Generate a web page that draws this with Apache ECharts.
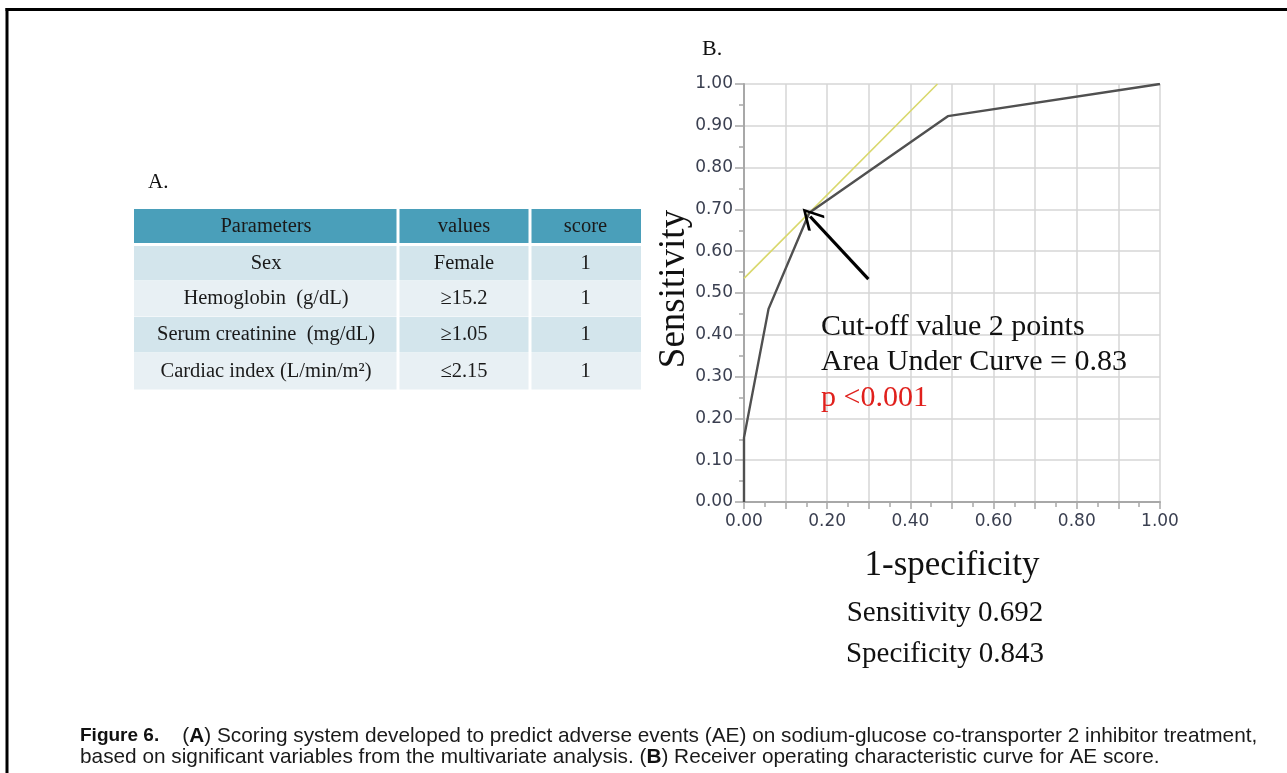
<!DOCTYPE html>
<html>
<head>
<meta charset="utf-8">
<script src="https://cdn.jsdelivr.net/npm/echarts@6/dist/echarts.min.js"></script>
<style>
html,body{margin:0;padding:0;background:#fff;}
#chart{width:1287px;height:773px;}
</style>
</head>
<body>
<div id="chart"></div>
<script>
// ---- Data ----
const rocFPR = [0, 0, 0.059, 0.157, 0.49, 1.0];
const rocTPR = [0, 0.154, 0.462, 0.692, 0.923, 1.0];
const tangentX = [0, 0.465];
const tangentY = [0.535, 1.0];
const arrowFrom = [0.299, 0.533];
const arrowTo = [0.159, 0.683];

const tableHeader = ['Parameters', 'values', 'score'];
const tableParams = ['Sex', 'Hemoglobin  (g/dL)', 'Serum creatinine  (mg/dL)', 'Cardiac index (L/min/m²)'];
const tableValues = ['Female', '≥15.2', '≥1.05', '≤2.15'];
const tableScores = ['1', '1', '1', '1'];

const annotLines = ['Cut-off value 2 points', 'Area Under Curve = 0.83', 'p <0.001'];
const summaryLines = ['Sensitivity 0.692', 'Specificity 0.843'];

// ---- Layout ----
const serif = '"Liberation Serif", "Times New Roman", serif';
const G = {left: 744, top: 84, width: 416, height: 418};

function tableGraphics() {
  const colX = [134, 398, 530, 641];
  const headTop = 209, headH = 34;
  const rowTops = [246, 281, 317, 353, 390];
  const els = [];
  for (let c = 0; c < 3; c++) {
    els.push({type: 'rect', shape: {x: colX[c] + (c ? 1.5 : 0), y: headTop, width: colX[c+1] - colX[c] - (c ? 1.5 : 0) - (c < 2 ? 1.5 : 0), height: headH},
      style: {fill: '#4a9fba'}});
    els.push({type: 'text', z: 10, x: (colX[c] + colX[c+1]) / 2, y: headTop + headH / 2 + 1,
      style: {text: tableHeader[c], font: '20.5px ' + serif, fill: '#1a1a1a', textAlign: 'center', textVerticalAlign: 'middle'}});
  }
  const cols = [tableParams, tableValues, tableScores];
  for (let r = 0; r < tableParams.length; r++) {
    const fill = r % 2 === 0 ? '#d3e5ec' : '#e8f0f4';
    const y0 = rowTops[r], h = rowTops[r+1] - rowTops[r];
    for (let c = 0; c < 3; c++) {
      els.push({type: 'rect', shape: {x: colX[c] + (c ? 1.5 : 0), y: y0, width: colX[c+1] - colX[c] - (c ? 1.5 : 0) - (c < 2 ? 1.5 : 0), height: h - 0.5},
        style: {fill: fill}});
      els.push({type: 'text', z: 10, x: (colX[c] + colX[c+1]) / 2, y: y0 + h / 2,
        style: {text: cols[c][r], font: '20.5px ' + serif, fill: '#1a1a1a', textAlign: 'center', textVerticalAlign: 'middle'}});
    }
  }
  return els;
}

const chart = echarts.init(document.getElementById('chart'), null, {renderer: 'canvas'});

const capFont = '20.8px "Liberation Sans", Arial, sans-serif';

const option = {
  backgroundColor: '#ffffff',
  animation: false,
  grid: {left: G.left, top: G.top, width: G.width, height: G.height, containLabel: false},
  xAxis: {
    type: 'value', min: 0, max: 1, interval: 0.1,
    axisLine: {show: true, onZero: false, lineStyle: {color: '#a8a8a8', width: 2}},
    axisTick: {show: true, length: 7, lineStyle: {color: '#a8a8a8', width: 1.5}},
    minorTick: {show: true, splitNumber: 2, length: 5, lineStyle: {color: '#a8a8a8', width: 1.5}},
    splitLine: {show: true, lineStyle: {color: '#d6d6d6', width: 1.5}},
    axisLabel: {
      margin: 11, color: '#3a3f50', fontSize: 17, fontFamily: '"DejaVu Sans", Verdana, sans-serif',
      formatter: v => (Math.round(v * 10) % 2 === 0 ? v.toFixed(2) : '')
    }
  },
  yAxis: {
    type: 'value', min: 0, max: 1, interval: 0.1,
    axisLine: {show: true, onZero: false, lineStyle: {color: '#a8a8a8', width: 2}},
    axisTick: {show: true, length: 9, lineStyle: {color: '#a8a8a8', width: 1.5}},
    minorTick: {show: true, splitNumber: 2, length: 5, lineStyle: {color: '#a8a8a8', width: 1.5}},
    splitLine: {show: true, lineStyle: {color: '#d6d6d6', width: 1.5}},
    axisLabel: {
      margin: 11, color: '#3a3f50', fontSize: 17, fontFamily: '"DejaVu Sans", Verdana, sans-serif',
      formatter: v => v.toFixed(2)
    }
  },
  series: [
    {
      type: 'line', name: 'tangent', showSymbol: false, symbol: 'none',
      data: tangentX.map((x, i) => [x, tangentY[i]]),
      lineStyle: {color: '#d9d86c', width: 1.6}, z: 2
    },
    {
      type: 'line', name: 'ROC', showSymbol: false, symbol: 'none',
      data: rocFPR.map((x, i) => [x, rocTPR[i]]),
      lineStyle: {color: '#505050', width: 2.4}, z: 3,
      markLine: {
        silent: true, animation: false,
        symbol: ['none', 'path://M0,0 L9,13 L7.5,14.5 L0,3.5 L-7.5,14.5 L-9,13 Z'],
        symbolSize: [22, 22],
        label: {show: false},
        lineStyle: {color: '#000', width: 3.2, type: 'solid'},
        data: [[{coord: arrowFrom}, {coord: arrowTo}]]
      }
    }
  ],
  graphic: [
    // frame
    {type: 'line', shape: {x1: 5.5, y1: 9.5, x2: 1287, y2: 9.5}, style: {stroke: '#000', lineWidth: 3}},
    {type: 'line', shape: {x1: 7, y1: 8, x2: 7, y2: 773}, style: {stroke: '#000', lineWidth: 3}},
    // panel labels
    {type: 'text', z: 10, x: 148, y: 182, style: {text: 'A.', font: '21px ' + serif, fill: '#111', textAlign: 'left', textVerticalAlign: 'middle'}},
    {type: 'text', z: 10, x: 702, y: 49, style: {text: 'B.', font: '22px ' + serif, fill: '#111', textAlign: 'left', textVerticalAlign: 'middle'}},
    // axis titles
    {type: 'text', z: 10, x: 674, y: 289, rotation: Math.PI / 2,
      style: {text: 'Sensitivity', font: '37px ' + serif, fill: '#111', textAlign: 'center', textVerticalAlign: 'middle'}},
    {type: 'text', z: 10, x: 952, y: 566,
      style: {text: '1-specificity', font: '35px ' + serif, fill: '#111', textAlign: 'center', textVerticalAlign: 'middle'}},
    // annotation
    {type: 'text', z: 100, x: 821, y: 327, style: {text: annotLines[0], font: '30px ' + serif, fill: '#111', textAlign: 'left', textVerticalAlign: 'middle'}},
    {type: 'text', z: 100, x: 821, y: 362, style: {text: annotLines[1], font: '30px ' + serif, fill: '#111', textAlign: 'left', textVerticalAlign: 'middle'}},
    {type: 'text', z: 100, x: 821, y: 398, style: {text: annotLines[2], font: '30px ' + serif, fill: '#e0201c', textAlign: 'left', textVerticalAlign: 'middle'}},
    // summary
    {type: 'text', z: 10, x: 945, y: 613, style: {text: summaryLines[0], font: '29px ' + serif, fill: '#111', textAlign: 'center', textVerticalAlign: 'middle'}},
    {type: 'text', z: 10, x: 945, y: 654, style: {text: summaryLines[1], font: '29px ' + serif, fill: '#111', textAlign: 'center', textVerticalAlign: 'middle'}},
    // caption
    {type: 'text', z: 10, x: 80, y: 736, style: {
      text: '{fig|Figure 6.}    ({b|A}) Scoring system developed to predict adverse events (AE) on sodium-glucose co-transporter 2 inhibitor treatment,',
      font: capFont, fill: '#1a1a1a', textAlign: 'left', textVerticalAlign: 'middle',
      rich: {
        fig: {fontFamily: '"Liberation Sans Narrow", "Liberation Sans", Arial, sans-serif', fontWeight: 'bold', fontSize: 19, fill: '#111'},
        b: {fontFamily: '"Liberation Sans", Arial, sans-serif', fontWeight: 'bold', fontSize: 20.8, fill: '#111'}
      }}},
    {type: 'text', z: 10, x: 80, y: 757, style: {
      text: 'based on significant variables from the multivariate analysis. ({b|B}) Receiver operating characteristic curve for AE score.',
      font: capFont, fill: '#1a1a1a', textAlign: 'left', textVerticalAlign: 'middle',
      rich: {
        b: {fontFamily: '"Liberation Sans", Arial, sans-serif', fontWeight: 'bold', fontSize: 20.8, fill: '#111'}
      }}}
  ].concat(tableGraphics())
};

chart.setOption(option);
</script>
</body>
</html>
